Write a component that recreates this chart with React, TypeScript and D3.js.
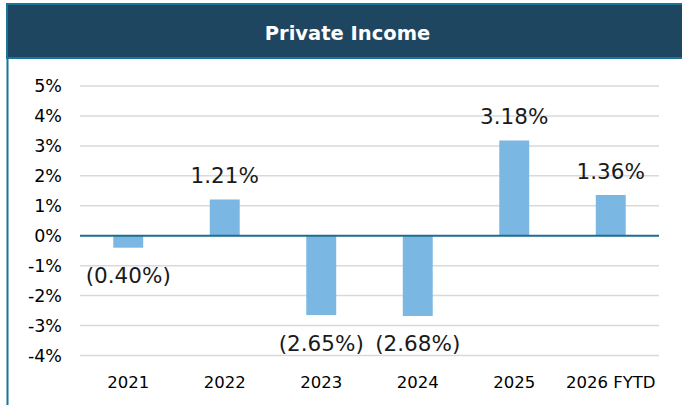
import React from "react";
import * as d3 from "d3";

const categories: string[] = ["2021", "2022", "2023", "2024", "2025", "2026 FYTD"];
const values: number[] = [-0.40, 1.21, -2.65, -2.68, 3.18, 1.36];
const yTicks: number[] = [5, 4, 3, 2, 1, 0, -1, -2, -3, -4];
const title = "Private Income";

const W = 682;
const H = 405;
const FONT = "'DejaVu Sans', sans-serif";

function fmtVal(v: number): string {
  const s = Math.abs(v).toFixed(2) + "%";
  return v < 0 ? `(${s})` : s;
}

export default function App() {
  const x = d3.scaleBand<string>().domain(categories).range([80, 659]).padding(0);
  const y = d3.scaleLinear().domain([-4, 5]).range([355.5, 86]);
  const barW = x.bandwidth() * 0.31;

  return (
    <svg
      width={W}
      height={H}
      style={{ position: "absolute", left: 0, top: 0, background: "#fff" }}
    >
      {/* frame */}
      <line x1={7.5} x2={7.5} y1={4} y2={H} stroke="#1b7595" strokeWidth={2} />
      <rect x={7} y={4} width={W} height={54} fill="#1f4661" stroke="#1b7595" strokeWidth={2} />
      <text
        x={(7 + W) / 2 + 3}
        y={40}
        textAnchor="middle"
        fill="#ffffff"
        fontFamily={FONT}
        fontWeight="bold"
        fontSize={19.5}
      >
        {title}
      </text>

      {/* gridlines */}
      {yTicks.map((t) =>
        t === 0 ? null : (
          <line key={`g${t}`} x1={80} x2={659} y1={y(t)} y2={y(t)} stroke="#d9d9d9" strokeWidth={1.5} />
        )
      )}
      {/* y tick labels */}
      {yTicks.map((t) => (
        <text
          key={`t${t}`}
          x={62}
          y={y(t) + 6}
          textAnchor="end"
          fontFamily={FONT}
          fontSize={17.5}
          fill="#000"
        >
          {`${t}%`}
        </text>
      ))}

      {/* bars */}
      {values.map((v, i) => {
        const cx = (x(categories[i]) as number) + x.bandwidth() / 2;
        const y0 = y(0);
        const yv = y(v);
        return (
          <rect
            key={`b${i}`}
            x={cx - barW / 2}
            y={Math.min(y0, yv)}
            width={barW}
            height={Math.abs(yv - y0)}
            fill="#7ab8e3"
          />
        );
      })}

      {/* zero line */}
      <line x1={80} x2={659} y1={y(0)} y2={y(0)} stroke="#1d6e8e" strokeWidth={2} />

      {/* value labels */}
      {values.map((v, i) => {
        const cx = (x(categories[i]) as number) + x.bandwidth() / 2;
        const ty = v >= 0 ? y(v) - 16 : y(v) + 35.5;
        return (
          <text
            key={`v${i}`}
            x={cx}
            y={ty}
            textAnchor="middle"
            fontFamily={FONT}
            fontSize={21.5}
            fill="#1a1a1a"
          >
            {fmtVal(v)}
          </text>
        );
      })}

      {/* category labels */}
      {categories.map((c) => (
        <text
          key={`c${c}`}
          x={(x(c) as number) + x.bandwidth() / 2}
          y={388}
          textAnchor="middle"
          fontFamily={FONT}
          fontSize={16.5}
          fill="#000"
        >
          {c}
        </text>
      ))}
    </svg>
  );
}
